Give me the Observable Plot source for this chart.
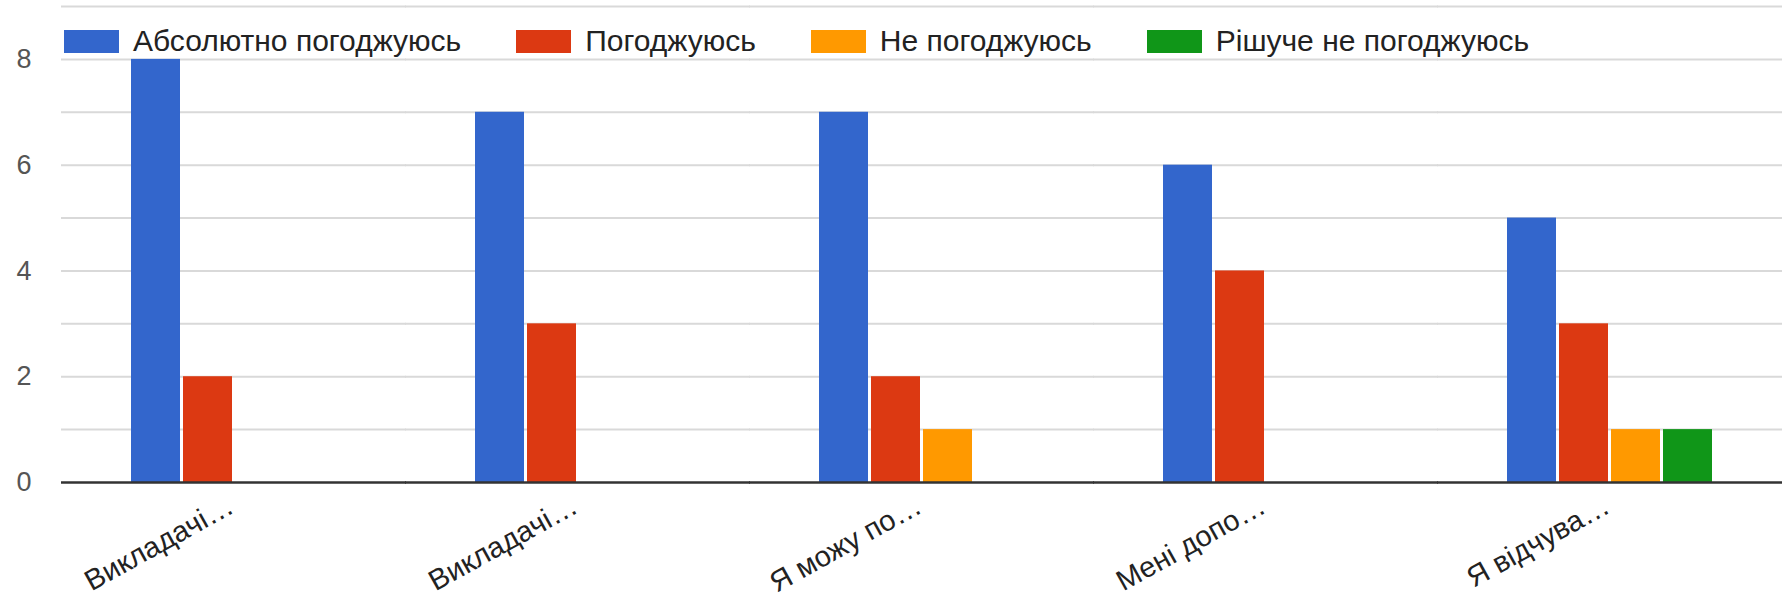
<!DOCTYPE html>
<html><head><meta charset="utf-8">
<script src="https://cdn.jsdelivr.net/npm/d3@7"></script>
<script src="https://cdn.jsdelivr.net/npm/@observablehq/plot@0.6"></script>
<style>
body{margin:0;background:#fff;font-family:"Liberation Sans", Arial, sans-serif;}
#wrap{position:relative;width:1783px;height:603px;}
#legend{position:absolute;left:64px;top:23px;height:36px;line-height:36px;display:flex;align-items:center;font-size:30px;color:#222;white-space:nowrap;}
.item{display:flex;align-items:center;margin-right:55px;}
.sw{width:55px;height:23px;margin-right:14px;}
</style></head><body><div id="wrap"><div id="legend"></div></div>
<script>
const categories = ["Викладачі…", "Викладачі…", "Я можу по…", "Мені допо…", "Я відчува…"];
const series = ["Абсолютно погоджуюсь", "Погоджуюсь", "Не погоджуюсь", "Рішуче не погоджуюсь"];
const colors = ["#3366cc", "#dc3912", "#ff9900", "#109618"];
const absolutelyAgree = [8, 7, 7, 6, 5];
const agree = [2, 3, 2, 4, 3];
const disagree = [0, 0, 1, 0, 1];
const stronglyDisagree = [0, 0, 0, 0, 1];
const yTicks = [0, 2, 4, 6, 8];
const gridTicks = [1, 2, 3, 4, 5, 6, 7, 8, 9];

const valuesBySeries = [absolutelyAgree, agree, disagree, stronglyDisagree];
const table = [];
categories.forEach((c, i) => {
  series.forEach((s, j) => {
    table.push({cat: i, series: s, value: valuesBySeries[j][i]});
  });
});

const chart = Plot.plot({
  width: 1783, height: 603,
  marginLeft: 60, marginRight: 0, marginTop: 6, marginBottom: 121,
  style: {fontFamily: "'Liberation Sans', Arial, sans-serif", fontSize: "30px", background: "white", color: "#222"},
  fx: {domain: d3.range(categories.length), paddingInner: 0.392, paddingOuter: 0.196, axis: null},
  x: {domain: series, paddingInner: 0.05, paddingOuter: 0, axis: null},
  y: {domain: [0, 9], axis: null},
  color: {domain: series, range: colors},
  marks: [
    Plot.ruleY(gridTicks, {stroke: "#d9d9d9", strokeWidth: 2, insetLeft: -68, insetRight: -68}),
    Plot.barY(table.filter(d => d.value > 0), {fx: "cat", x: "series", y: "value", fill: "series"}),
    Plot.ruleY([0], {stroke: "#333", strokeWidth: 2.5, insetLeft: -68, insetRight: -68}),
    Plot.axisY(yTicks, {tickSize: 0, tickPadding: 98, fontSize: 27, fill: "#555", tickFormat: d3.format("d"), label: null}),
    Plot.axisFx({anchor: "bottom", tickRotate: -29, tickSize: 0, tickPadding: 21, dx: -3, fontSize: 29, fill: "#222", tickFormat: i => categories[i], label: null})
  ]
});
document.getElementById("wrap").prepend(chart);

const legend = d3.select("#legend");
series.forEach((s, j) => {
  const it = legend.append("div").attr("class", "item");
  it.append("div").attr("class", "sw").style("background", colors[j]);
  it.append("span").text(s);
});
</script>
</body></html>
